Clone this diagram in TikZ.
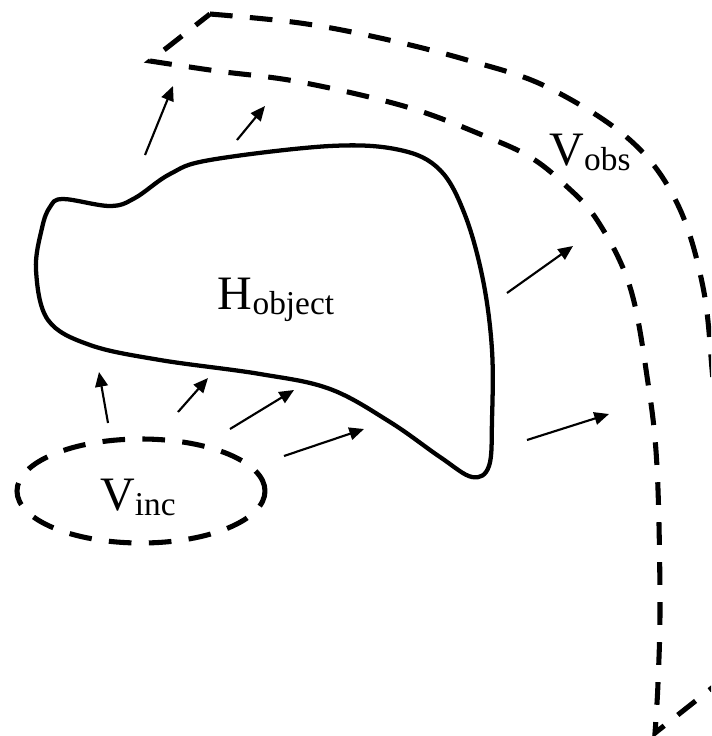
\documentclass[tikz,border=0pt]{standalone}
\usepackage{fontspec}
\setmainfont{Liberation Serif}
\usetikzlibrary{shapes.geometric,arrows.meta}
\newcommand\withsub[2]{#1\raisebox{-3.75pt}{\fontsize{25}{28}\selectfont #2}}
\begin{document}
\begin{tikzpicture}[x=0.75pt,y=-0.75pt,
  band/.style={line width=3.8pt,dash pattern=on 17pt off 13pt},
  blob/.style={line width=3.2pt,line join=round},
  ray/.style={line width=1.6pt,-{Triangle[length=11pt,width=9.5pt]}},
  lbl/.style={font=\fontsize{36}{40}\selectfont,inner sep=0pt}]
\clip (0,0) rectangle (711,736);
% observation band
\draw[band] plot[smooth,tension=0.6] coordinates {(210,14) (300,23) (380,38) (467,60) (547,87) (630,140) (677,203) (703,287) (713,380) (722,480) (724,600) (722,680)}
  -- plot[smooth,tension=0.6] coordinates {(655,733) (658,683) (660,600) (657,467) (648,383) (630,287) (597,220) (563,183) (530,157) (487,137) (407,107) (300,82) (217,71) (150,61)}
  -- cycle;
% object
\draw[blob] plot[smooth cycle,tension=0.6] coordinates {(63,199) (110,206) (135,198) (170,174) (210,160) (330,146) (400,150) (440,170) (465,215) (483,280) (492,350) (492,420) (489,466) (472,477) (440,457) (390,422) (330,389) (260,374) (160,360) (90,345) (48,320) (36,270) (42,228) (50,207)};
% labels
\node[lbl] (hobj) at (276,300) {\withsub{H}{object}};
\node[lbl] (vobs) at (590,152) {\withsub{V}{obs}};
\node[lbl,draw,ellipse,band,minimum width=186pt,minimum height=78pt] (vinc) at (141,491) {};
\node[lbl] (vinctxt) at (138,497) {\withsub{V}{inc}};
% rays
\coordinate (a1) at (145,155); \coordinate (b1) at (173,86);
\coordinate (a2) at (237,140); \coordinate (b2) at (265,106);
\coordinate (a3) at (507,293); \coordinate (b3) at (573,246);
\coordinate (a4) at (527,440); \coordinate (b4) at (609,414);
\coordinate (a5) at (108,423); \coordinate (b5) at (99,372);
\coordinate (a6) at (178,412); \coordinate (b6) at (208,378);
\coordinate (a7) at (230,429); \coordinate (b7) at (294,390);
\coordinate (a8) at (284,456); \coordinate (b8) at (364,429);
\foreach \i in {1,...,8} \draw[ray] (a\i) -- (b\i);
\end{tikzpicture}
\end{document}
